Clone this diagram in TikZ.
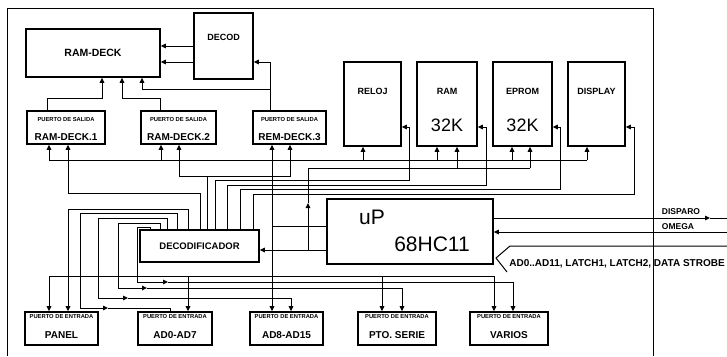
\documentclass[tikz,border=0pt]{standalone}
\usepackage{fontspec}
\setmainfont{Liberation Sans}
\usepackage{tikz}
\usetikzlibrary{positioning,arrows.meta}

\begin{document}
\begin{tikzpicture}[x=1pt, y=-1pt,
    >={Triangle[length=5pt,width=4.6pt]},
    blk/.style={draw, line width=1.6pt, inner sep=0pt},
    wire/.style={line width=1pt},
    hdr/.style={inner sep=0pt, font=\fontsize{5.8}{6}\selectfont\bfseries},
    lbl/.style={inner sep=0pt, font=\fontsize{9}{10}\selectfont\bfseries},
    plbl/.style={inner sep=0pt, font=\fontsize{10}{11}\selectfont\bfseries},
    sml/.style={inner sep=0pt, font=\fontsize{8.5}{9}\selectfont\bfseries},
    bigtxt/.style={inner sep=0pt, font=\fontsize{21}{24}\selectfont}
  ]
  \useasboundingbox (0,0) rectangle (727,356);
  % frame
  \draw[line width=1pt] (7,356) -- (7,8) -- (653,8) -- (653,356);

  % upper blocks
  \node[blk, minimum width=134, minimum height=48] (ramdeck) at (93,53) {};
  \node[lbl, font=\fontsize{10.5}{12}\selectfont\bfseries] (ramdecktxt) at (ramdeck) {RAM-DECK};
  \node[blk, minimum width=59, minimum height=66] (decod) at (223.5,46) {};
  \node[lbl, below=22pt of decod.north] (decodtxt) {DECOD};

  \node[blk, minimum width=78, minimum height=33] (rdeck1) at (66,127.5) {};
  \node[hdr, below=7pt of rdeck1.north] (rdeck1h) {PUERTO DE SALIDA};
  \node[plbl, above=4pt of rdeck1.south] (rdeck1t) {RAM-DECK.1};
  \node[blk, minimum width=75, minimum height=33] (rdeck2) at (178.5,127.5) {};
  \node[hdr, below=7pt of rdeck2.north] (rdeck2h) {PUERTO DE SALIDA};
  \node[plbl, above=4pt of rdeck2.south] (rdeck2t) {RAM-DECK.2};
  \node[blk, minimum width=73, minimum height=33] (rdeck3) at (289.5,127.5) {};
  \node[hdr, below=7pt of rdeck3.north] (rdeck3h) {PUERTO DE SALIDA};
  \node[plbl, above=4pt of rdeck3.south] (rdeck3t) {REM-DECK.3};

  \node[blk, minimum width=57, minimum height=84] (reloj) at (372.5,104) {};
  \node[lbl, below=27pt of reloj.north] (relojtxt) {RELOJ};
  \node[blk, minimum width=60, minimum height=84] (ram) at (447,104) {};
  \node[lbl, below=27pt of ram.north] (ramtxt) {RAM};
  \node[bigtxt, font=\fontsize{18}{20}\selectfont, above=15pt of ram.south] (ramk) {32K};
  \node[blk, minimum width=59, minimum height=84] (eprom) at (522.5,104) {};
  \node[lbl, below=27pt of eprom.north] (epromtxt) {EPROM};
  \node[bigtxt, font=\fontsize{18}{20}\selectfont, above=15pt of eprom.south] (epromk) {32K};
  \node[blk, minimum width=57, minimum height=84] (display) at (596.5,104) {};
  \node[lbl, below=27pt of display.north] (displaytxt) {DISPLAY};

  % processor and decoder
  \node[blk, minimum width=166, minimum height=65] (up) at (410,231.5) {};
  \node[bigtxt] (uptxt) at ([xshift=-38pt,yshift=14pt]up.center) {uP};
  \node[bigtxt] (hctxt) at ([xshift=22pt,yshift=-13pt]up.center) {68HC11};
  \node[blk, minimum width=119, minimum height=32] (deco) at (199.5,246) {};
  \node[lbl, font=\fontsize{9.5}{11}\selectfont\bfseries] (decotxt) at (deco) {DECODIFICADOR};

  % input ports
  \node[blk, minimum width=73, minimum height=33] (panel) at (61.5,328.5) {};
  \node[hdr, below=3pt of panel.north] (panelh) {PUERTO DE ENTRADA};
  \node[plbl, above=7pt of panel.south] (panelt) {PANEL};
  \node[blk, minimum width=74, minimum height=33] (ad07) at (175,328.5) {};
  \node[hdr, below=3pt of ad07.north] (ad07h) {PUERTO DE ENTRADA};
  \node[plbl, above=7pt of ad07.south] (ad07t) {AD0-AD7};
  \node[blk, minimum width=73, minimum height=33] (ad815) at (286.5,328.5) {};
  \node[hdr, below=3pt of ad815.north] (ad815h) {PUERTO DE ENTRADA};
  \node[plbl, above=7pt of ad815.south] (ad815t) {AD8-AD15};
  \node[blk, minimum width=78, minimum height=33] (pto) at (397,328.5) {};
  \node[hdr, below=3pt of pto.north] (ptoh) {PUERTO DE ENTRADA};
  \node[plbl, above=7pt of pto.south] (ptot) {PTO. SERIE};
  \node[blk, minimum width=78, minimum height=33] (varios) at (509,328.5) {};
  \node[hdr, below=3pt of varios.north] (variosh) {PUERTO DE ENTRADA};
  \node[plbl, above=7pt of varios.south] (variost) {VARIOS};

  % RAM-DECK wiring
  \coordinate (jdeck) at (270,89);
  \draw[wire,->] (decod.west |- 0,46) -- (ramdeck.east |- 0,46);
  \draw[wire,->] (decod.west |- 0,62) -- (ramdeck.east |- 0,62);
  \draw[wire,->] (rdeck3.north -| 270,0) |- (decod.east |- 0,62);
  \draw[wire,->] (jdeck) -| (ramdeck.south -| 142,0);
  \draw[wire,->] (rdeck1.north -| 47,0) |- (102,98) -- (ramdeck.south -| 102,0);
  \draw[wire,->] (rdeck2.north -| 160,0) |- (122,98) -- (ramdeck.south -| 122,0);

  % data bus (top)
  \draw[wire] (49,160) -- (587,160);
  \foreach \x/\n in {49/rdeck1,161/rdeck2,363/reloj,437/ram,512/eprom,587/display}
    \draw[wire,->] (\x,160) -- (\n.south -| \x,0);

  % uP to decoder and address lines
  \coordinate (jup) at (308,250);
  \draw[wire,->] (up.west |- 0,250) -- (deco.east |- 0,250);
  \draw[wire,->] (jup) -- (308,203);
  \draw[wire] (308,203) |- (530,168);
  \foreach \x/\n in {457/ram,530/eprom}
    \draw[wire,->] (\x,168) -- (\n.south -| \x,0);

  \coordinate (jbus) at (272,226);
  \draw[wire,<->] (rdeck3.south -| 272,0) -- (ad815.north -| 272,0);
  \draw[wire] (jbus) -- (up.west |- 0,226);

  % selects from DECODIFICADOR
  \draw[wire,<->] (rdeck2.south -| 179,0) |- (290,176) -- (rdeck3.south -| 290,0);
  \draw[wire] (207,176) -- (deco.north -| 207,0);
  \draw[wire,<-] (rdeck1.south -| 68,0) |- (200,193) -- (deco.north -| 200,0);
  \foreach \dx/\yy/\cx/\n in {215/180/409/reloj, 227/185/486/ram, 240/189/560/eprom, 253/194/634/display}
    \draw[wire,->] (deco.north -| \dx,0) |- (\cx,\yy) |- (\n.east |- 0,127);

  \draw[wire,->] (deco.north -| 188,0) |- (68,209) -- (panel.north -| 68,0);
  \draw[wire,->] (deco.north -| 177,0) |- (80,213) |- (108,308);
  \draw[wire] (108,308) -| (ad07.north -| 170,0);
  \draw[wire,->] (deco.north -| 167,0) |- (98,218) |- (128,298);
  \draw[wire,->] (128,298) -| (ad815.north -| 291,0);
  \draw[wire,->] (deco.north -| 160,0) |- (118,223) |- (147,288);
  \draw[wire,->] (147,288) -| (pto.north -| 402,0);
  \draw[wire,->] (deco.north -| 150,0) |- (137,227) |- (168,282);
  \draw[wire,->] (168,282) -| (varios.north -| 513,0);

  % data bus (bottom)
  \draw[wire] (49,276) -- (494,276);
  \foreach \x/\n in {49/panel,188/ad07,382/pto,494/varios}
    \draw[wire,->] (\x,276) -- (\n.north -| \x,0);

  % outside signals
  \coordinate (dispend) at (727,218);
  \coordinate (omegaend) at (727,232);
  \draw[wire,->] (up.east |- 0,218) -- (710,218);
  \draw[wire] (710,218) -- (dispend);
  \draw[wire,->] (omegaend) -- (up.east |- 0,232);
  \node[sml] (disparo) at (681,212) {DISPARO};
  \node[sml] (omega) at (678,226.5) {OMEGA};
  \draw[wire] (727,246) -- (510,246) -- (496,258) -- (507,272);
  \node[plbl] (bustxt) at (617,264) {AD0..AD11, LATCH1, LATCH2, DATA STROBE};
\end{tikzpicture}
\end{document}
